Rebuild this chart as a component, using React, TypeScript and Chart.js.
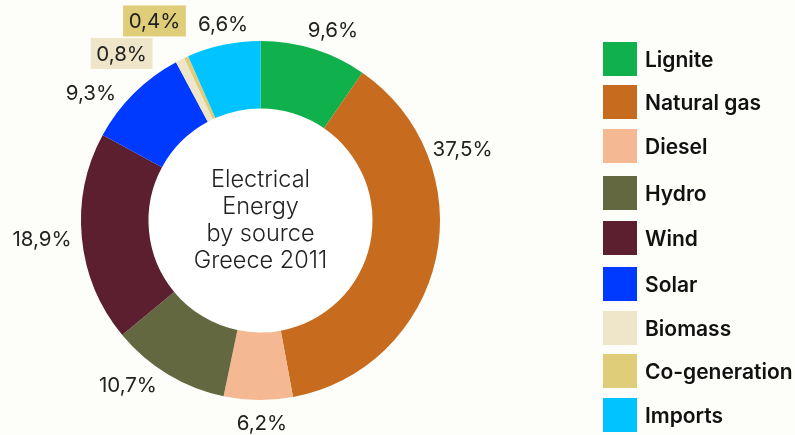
import React, { useEffect, useRef } from "react";
import { Chart, registerables } from "chart.js";

Chart.register(...registerables);

const categories = ["Lignite", "Natural gas", "Diesel", "Hydro", "Wind", "Solar", "Biomass", "Co-generation", "Imports"];
const shares = [9.6, 37.5, 6.2, 10.7, 18.9, 9.3, 0.8, 0.4, 6.6];
const shareLabels = ["9,6%", "37,5%", "6,2%", "10,7%", "18,9%", "9,3%", "0,8%", "0,4%", "6,6%"];
const colors = ["#10b04c", "#c76b1e", "#f4b992", "#636840", "#5c1f30", "#0039ff", "#efe6c9", "#dfcd79", "#00c3ff"];
const boxedLabels = [false, false, false, false, false, false, true, true, false];
const centerLines = ["Electrical", "Energy", "by source", "Greece 2011"];

// label anchor: angle (deg, clockwise from top) and distance as fraction of outer radius
const labelPlacement: [number, number][] = [
  [20.9, 1.131],
  [70.8, 1.192],
  [179.6, 1.134],
  [218.7, 1.181],
  [264.9, 1.222],
  [306.7, 1.178],
  [320.1, 1.206],
  [331.9, 1.254],
  [349.2, 1.112],
];

const FONT = "Inter, 'Noto Sans', sans-serif";
const BG = "#fdfdf9";

const centerPlugin = {
  id: "centerPlugin",
  beforeDatasetsDraw(chart: any) {
    const arc = chart.getDatasetMeta(0).data[0];
    if (!arc) return;
    const ctx = chart.ctx;
    ctx.save();
    ctx.fillStyle = "#ffffff";
    ctx.beginPath();
    ctx.arc(arc.x, arc.y, arc.innerRadius, 0, Math.PI * 2);
    ctx.fill();
    ctx.restore();
  },
  afterDatasetsDraw(chart: any) {
    const meta = chart.getDatasetMeta(0);
    const ctx = chart.ctx;
    const arc0 = meta.data[0];
    if (!arc0) return;
    const cx = arc0.x;
    const cy = arc0.y;
    ctx.save();
    // center text
    ctx.fillStyle = "#222222";
    ctx.font = `300 23.5px ${FONT}`;
    ctx.textAlign = "center";
    ctx.textBaseline = "alphabetic";
    centerLines.forEach((line, i) => {
      ctx.fillText(line, cx, cy - 33.5 + i * 27);
    });
    // slice labels
    ctx.font = `400 20.5px ${FONT}`;
    ctx.textBaseline = "middle";
    meta.data.forEach((arc: any, i: number) => {
      const [deg, k] = labelPlacement[i];
      const a = (deg * Math.PI) / 180;
      const R = arc.outerRadius * k;
      const x = cx + R * Math.sin(a);
      const y = cy - R * Math.cos(a);
      const text = shareLabels[i];
      if (boxedLabels[i]) {
        const w = ctx.measureText(text).width + 11;
        const h = 31;
        ctx.fillStyle = colors[i];
        ctx.fillRect(x - w / 2, y - h / 2 - 1, w, h);
      }
      ctx.fillStyle = "#222222";
      ctx.fillText(text, x, y);
    });
    ctx.restore();
  },
};

function DoughnutChart() {
  const ref = useRef<HTMLCanvasElement | null>(null);
  useEffect(() => {
    if (!ref.current) return;
    const chart = new Chart(ref.current, {
      type: "doughnut",
      data: {
        labels: categories,
        datasets: [
          {
            data: shares,
            backgroundColor: colors,
            borderWidth: 0,
            hoverOffset: 0,
          },
        ],
      },
      options: {
        animation: false,
        responsive: false,
        maintainAspectRatio: false,
        cutout: "62.4%",
        layout: { padding: { left: 81, right: 355, top: 41, bottom: 35 } },
        plugins: {
          legend: { display: false },
          tooltip: { enabled: false },
        },
      },
      plugins: [centerPlugin],
    });
    return () => chart.destroy();
  }, []);
  return <canvas ref={ref} width={795} height={435} style={{ position: "absolute", left: 0, top: 0, width: 795, height: 435 }} />;
}

const legendTops = [42, 85, 129, 176, 221, 267, 311, 354, 398];

export default function App() {
  useEffect(() => {
    document.body.style.margin = "0";
    document.body.style.background = BG;
  }, []);
  return (
    <div style={{ position: "absolute", left: 0, top: 0, width: 795, height: 435, background: BG, overflow: "hidden" }}>
      <DoughnutChart />
      {categories.map((c, i) => (
        <div
          key={c}
          style={{
            position: "absolute",
            left: 603,
            top: legendTops[i],
            height: 34,
            display: "flex",
            alignItems: "center",
            whiteSpace: "nowrap",
          }}
        >
          <div style={{ width: 34, height: 34, background: colors[i], flex: "0 0 auto" }} />
          <span
            style={{
              marginLeft: 8,
              fontFamily: FONT,
              fontWeight: 600,
              fontSize: 21,
              color: "#111111",
            }}
          >
            {c}
          </span>
        </div>
      ))}
    </div>
  );
}
